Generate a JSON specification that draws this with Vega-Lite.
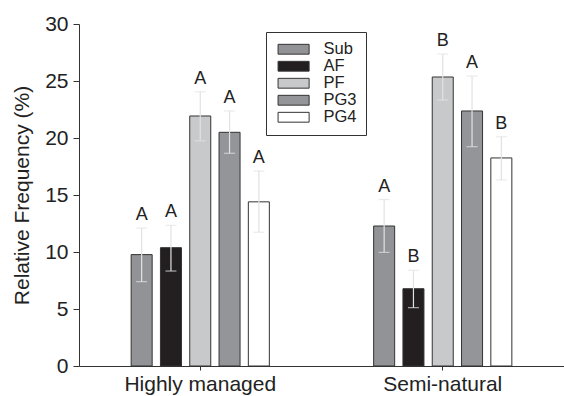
{
  "$schema": "https://vega.github.io/schema/vega-lite/v6.json",
  "width": 485,
  "height": 342,
  "autosize": {"type": "none"},
  "padding": {"left": 79, "top": 24, "right": 0, "bottom": 30},
  "background": "white",
  "config": {
    "view": {"stroke": null},
    "font": "Liberation Sans",
    "axis": {"grid": false, "domainColor": "#333333", "tickColor": "#333333", "labelColor": "#222222", "titleColor": "#222222", "labelFont": "Liberation Sans", "titleFont": "Liberation Sans", "titleFontWeight": "normal"}
  },
  "data": {
    "values": [
      {"group": "Highly managed", "series": "Sub", "value": 9.77, "lo": 7.4, "hi": 12.1, "letter": "A"},
      {"group": "Highly managed", "series": "AF", "value": 10.38, "lo": 8.33, "hi": 12.34, "letter": "A"},
      {"group": "Highly managed", "series": "PF", "value": 21.93, "lo": 19.75, "hi": 24.06, "letter": "A"},
      {"group": "Highly managed", "series": "PG3", "value": 20.5, "lo": 18.66, "hi": 22.37, "letter": "A"},
      {"group": "Highly managed", "series": "PG4", "value": 14.4, "lo": 11.73, "hi": 17.1, "letter": "A"},
      {"group": "Semi-natural", "series": "Sub", "value": 12.28, "lo": 9.97, "hi": 14.6, "letter": "A"},
      {"group": "Semi-natural", "series": "AF", "value": 6.78, "lo": 5.12, "hi": 8.39, "letter": "B"},
      {"group": "Semi-natural", "series": "PF", "value": 25.35, "lo": 23.33, "hi": 27.37, "letter": "B"},
      {"group": "Semi-natural", "series": "PG3", "value": 22.37, "lo": 19.24, "hi": 25.44, "letter": "A"},
      {"group": "Semi-natural", "series": "PG4", "value": 18.25, "lo": 16.32, "hi": 20.11, "letter": "B"}
    ]
  },
  "encoding": {
    "x": {
      "field": "group", "type": "nominal",
      "scale": {"paddingInner": 0, "paddingOuter": 0},
      "axis": {"title": null, "labelAngle": 0, "labelFontSize": 21, "tickSize": 4, "labelPadding": 3, "domainWidth": 1}
    },
    "xOffset": {
      "field": "series", "type": "nominal",
      "scale": {"domain": ["_l", "Sub", "AF", "PF", "PG3", "PG4", "_r"], "paddingInner": 0.283, "paddingOuter": 0.78}
    }
  },
  "layer": [
    {
      "mark": {"type": "bar", "stroke": "#333333", "strokeWidth": 1},
      "encoding": {
        "y": {
          "field": "value", "type": "quantitative",
          "scale": {"domain": [0, 30], "nice": false},
          "axis": {"title": "Relative Frequency (%)", "titleFontSize": 21, "labelFontSize": 21, "values": [0, 5, 10, 15, 20, 25, 30], "tickSize": 6, "labelPadding": 5, "titlePadding": 12}
        },
        "fill": {
          "field": "series", "type": "nominal",
          "scale": {"domain": ["Sub", "AF", "PF", "PG3", "PG4"], "range": ["#929397", "#231f20", "#c8c9cb", "#939598", "#ffffff"]},
          "legend": {
            "title": null,
            "orient": "none",
            "legendX": 187,
            "legendY": 8,
            "padding": 9,
            "strokeColor": "#333333",
            "fillColor": "white",
            "symbolType": "M-1,-0.95H5V0.95H-1Z",
            "symbolSize": 107,
            "symbolStrokeColor": "#333333",
            "symbolStrokeWidth": 1,
            "labelFontSize": 16.5,
            "labelColor": "#222222",
            "labelOffset": 32,
            "rowPadding": 0
          }
        }
      }
    },
    {
      "mark": {"type": "rule", "color": "#e2e2e2", "strokeWidth": 1.2},
      "encoding": {
        "y": {"field": "lo", "type": "quantitative"},
        "y2": {"field": "hi"}
      }
    },
    {
      "mark": {"type": "tick", "color": "#e2e2e2", "size": 11, "thickness": 1.2},
      "encoding": {"y": {"field": "lo", "type": "quantitative"}}
    },
    {
      "mark": {"type": "tick", "color": "#e2e2e2", "size": 11, "thickness": 1.2},
      "encoding": {"y": {"field": "hi", "type": "quantitative"}}
    },
    {
      "mark": {"type": "text", "fontSize": 18, "baseline": "alphabetic", "dy": -8, "color": "#222222"},
      "encoding": {
        "y": {"field": "hi", "type": "quantitative"},
        "text": {"field": "letter"}
      }
    }
  ]
}
